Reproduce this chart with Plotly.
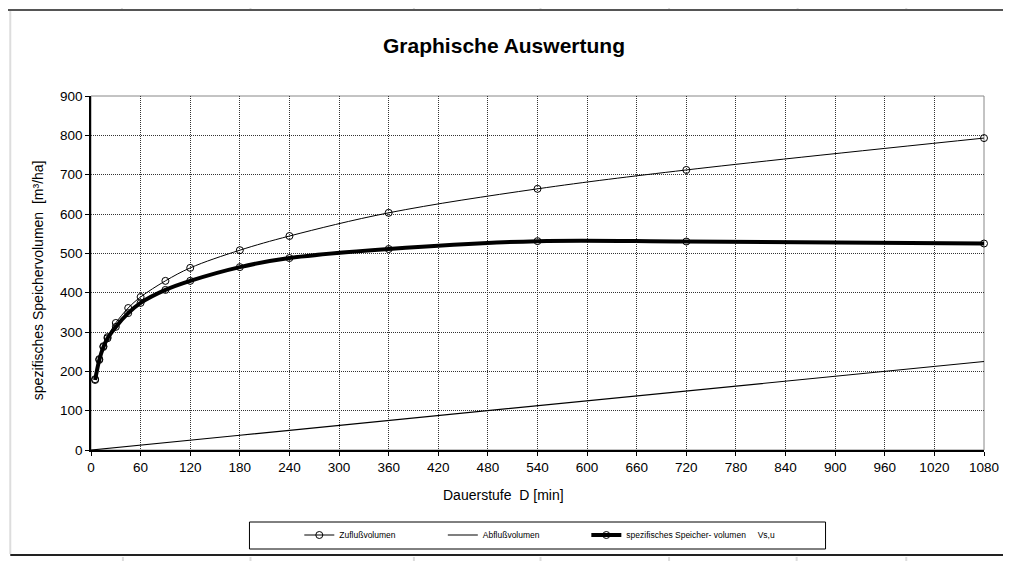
import plotly.graph_objects as go

# ---- data ----
dauer = [5, 10, 15, 20, 30, 45, 60, 90, 120, 180, 240, 360, 540, 720, 1080]
zufluss = [180, 231, 264, 287, 323, 361, 389, 430, 463, 508, 544, 603, 664, 712, 793]
abfluss_d = [0, 5, 10, 15, 20, 30, 45, 60, 90, 120, 180, 240, 360, 540, 720, 1080]
abfluss = [0.0, 1.0, 2.1, 3.1, 4.2, 6.3, 9.4, 12.5, 18.8, 25.0, 37.5, 50.0, 75.0, 112.5, 150.0, 225.0]
speicher = [178, 229, 262, 284, 313, 348, 374, 407, 430, 465, 488, 511, 531, 530, 525]

x_ticks = list(range(0, 1081, 60))
y_ticks = list(range(0, 901, 100))

OFF = 8  # page body margin
W, H = 1011 - OFF, 561 - OFF
L, R, T, B = 91 - OFF, 987 - OFF, 96 - OFF, 450 - OFF  # plot area in figure pixels


def px(x):
    # x given in screen pixels
    return (x - OFF - L) / (R - L)


def py(y):
    return (B - (y - OFF)) / (B - T)


FONT = "Liberation Sans, Arial, sans-serif"

fig = go.Figure()
fig.add_trace(go.Scatter(
    x=dauer, y=zufluss, name="Zuflußvolumen", mode="lines+markers",
    line=dict(color="black", width=1, shape="spline"),
    marker=dict(symbol="circle-open", size=7, color="black", line=dict(width=1)),
    cliponaxis=False, legend="legend"))
fig.add_trace(go.Scatter(
    x=abfluss_d, y=abfluss, name="Abflußvolumen", mode="lines",
    line=dict(color="black", width=1.2), cliponaxis=False, legend="legend2"))
fig.add_trace(go.Scatter(
    x=dauer, y=speicher, name="spezifisches Speicher- volumen     Vs,u",
    mode="lines+markers",
    line=dict(color="black", width=4, shape="spline"),
    marker=dict(symbol="circle-open", size=7, color="black", line=dict(width=1)),
    cliponaxis=False, legend="legend3"))

shapes = []
# spreadsheet background lines
shapes.append(dict(type="line", xref="paper", yref="paper", x0=px(5), x1=px(1011),
                   y0=py(10), y1=py(10), line=dict(color="#555555", width=2), layer="below"))
shapes.append(dict(type="line", xref="paper", yref="paper", x0=px(10), x1=px(1011),
                   y0=py(555), y1=py(555), line=dict(color="#222222", width=2), layer="below"))
shapes.append(dict(type="line", xref="paper", yref="paper", x0=px(10), x1=px(10),
                   y0=py(11), y1=py(554), line=dict(color="#dddddd", width=2), layer="below"))
for xv in [122, 251, 415, 542, 671, 800, 909]:
    shapes.append(dict(type="line", xref="paper", yref="paper", x0=px(xv), x1=px(xv),
                       y0=py(OFF), y1=py(9), line=dict(color="#dddddd", width=2), layer="below"))
for xv in [123, 251, 415, 542, 671, 799, 909]:
    shapes.append(dict(type="line", xref="paper", yref="paper", x0=px(xv), x1=px(xv),
                       y0=py(557), y1=py(561), line=dict(color="#dddddd", width=2), layer="below"))
# plot area border (gray)
shapes.append(dict(type="rect", xref="paper", yref="paper", x0=0, x1=1, y0=0, y1=1,
                   line=dict(color="#888888", width=1), layer="below"))
# legend box
shapes.append(dict(type="rect", xref="paper", yref="paper", x0=px(250), x1=px(828),
                   y0=py(522), y1=py(549), line=dict(color="black", width=1), layer="below"))

annotations = [
    dict(text="Dauerstufe  D [min]", xref="paper", yref="paper", x=px(505), y=py(495),
         xanchor="center", yanchor="middle", showarrow=False,
         font=dict(family=FONT, size=14, color="black")),
    dict(text="spezifisches Speichervolumen  [m³/ha]", xref="paper", yref="paper",
         x=px(38), y=py(280), xanchor="center", yanchor="middle", textangle=-90,
         showarrow=False, font=dict(family=FONT, size=14, color="black")),
]


def leg(xs):
    return dict(orientation="h", x=px(xs), xanchor="left", y=py(535), yanchor="middle",
                bgcolor="rgba(0,0,0,0)", borderwidth=0,
                font=dict(family=FONT, size=8.5, color="black"), itemwidth=30)


fig.update_layout(
    width=W, height=H,
    margin=dict(l=L, r=W - R, t=T, b=H - B),
    paper_bgcolor="white", plot_bgcolor="white",
    font=dict(family=FONT, size=13.5, color="black"),
    title=dict(text="<b>Graphische Auswertung</b>", x=(504 - OFF) / W, xanchor="center",
               y=1 - (46 - OFF) / H, yanchor="middle", yref="container",
               font=dict(family=FONT, size=21, color="black")),
    xaxis=dict(range=[0, 1080], tickvals=x_ticks, ticktext=[str(v) for v in x_ticks],
               showgrid=True, gridcolor="#333333", griddash="1px,1px", gridwidth=1,
               showline=True, linecolor="black", linewidth=1.5,
               ticks="outside", ticklen=4, tickcolor="black", zeroline=False),
    yaxis=dict(range=[0, 900], tickvals=y_ticks, ticktext=[str(v) for v in y_ticks],
               showgrid=True, gridcolor="#333333", griddash="1px,1px", gridwidth=1,
               showline=True, linecolor="black", linewidth=1.5,
               ticks="outside", ticklen=4, tickcolor="black", zeroline=False),
    showlegend=True,
    legend=leg(300),
    legend2=leg(444),
    legend3=leg(588),
    shapes=shapes,
    annotations=annotations,
)

fig.write_html("out.html")
